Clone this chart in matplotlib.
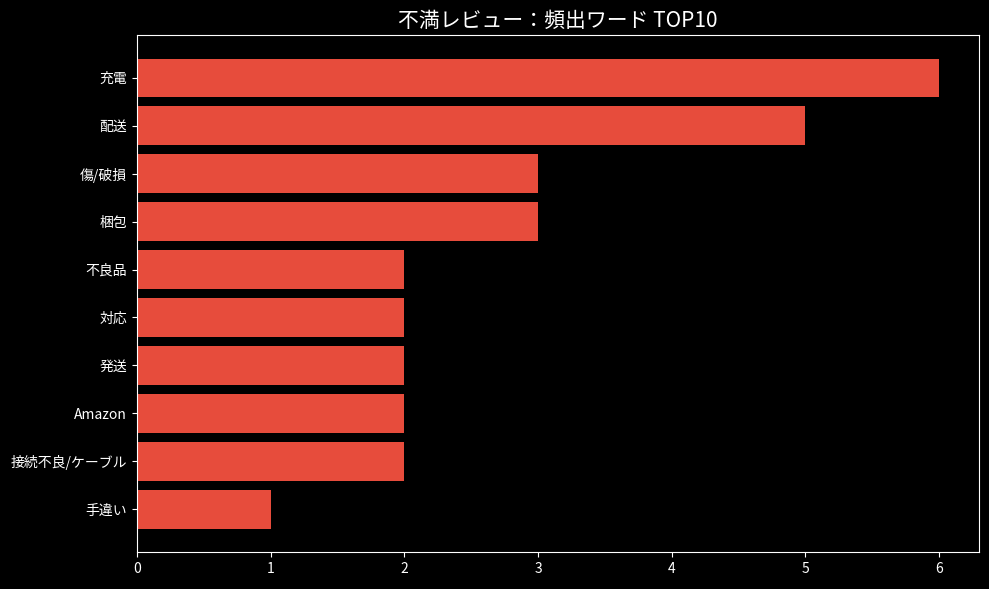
import matplotlib
matplotlib.use("Agg")
import matplotlib.pyplot as plt

plt.style.use("dark_background")
plt.rcParams['font.family'] = ['Noto Sans CJK JP', 'DejaVu Sans']

words = ["充電", "配送", "傷/破損", "梱包", "不良品", "対応", "発送", "Amazon", "接続不良/ケーブル", "手違い"]
counts = [6, 5, 3, 3, 2, 2, 2, 2, 2, 1]

fig = plt.figure(figsize=(9.89, 5.89), dpi=100)
ax = fig.add_axes([137/989, 1-552/589, (979-137)/989, (552-35)/589])
ax.barh(words, counts, color="#e74c3c", height=0.8)
ax.invert_yaxis()
ax.set_xlim(0, 6.3)
ax.set_title("不満レビュー：頻出ワード TOP10", fontsize=15)
ax.tick_params(labelsize=10)
fig.savefig("out.png", dpi=100)
